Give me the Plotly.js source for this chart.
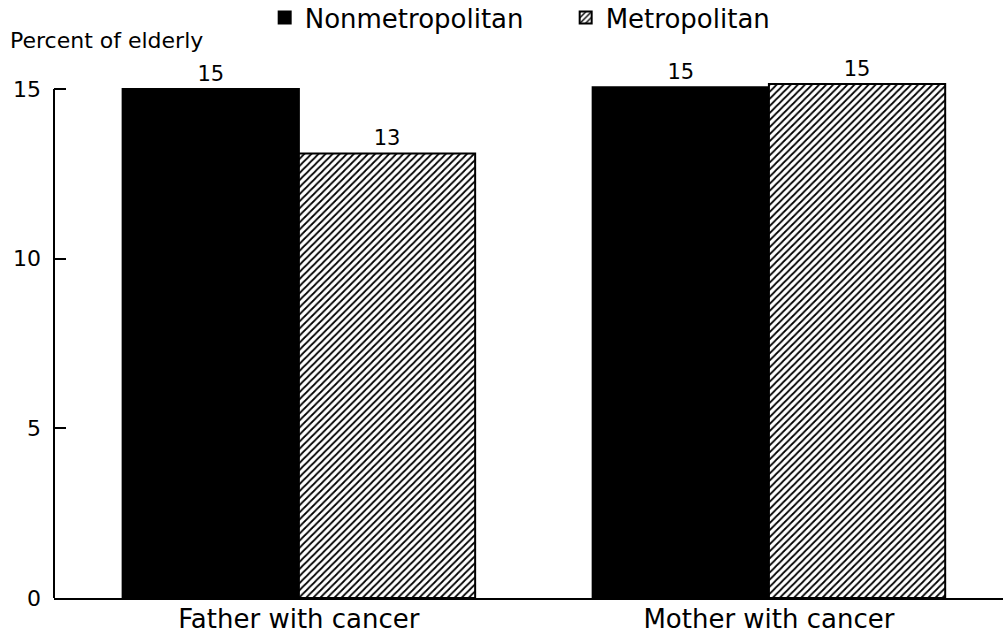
<!DOCTYPE html>
<html><head><meta charset="utf-8">
<script src="https://cdn.plot.ly/plotly-3.0.1.min.js"></script>
<style>html,body{margin:0;padding:0;background:#fff}#chart{width:1003px;height:638px}</style>
</head><body><div id="chart"></div>
<script>
const categories = ["Father with cancer", "Mother with cancer"];
const nonmetro = [15.0, 15.05];
const metro = [13.1, 15.15];
const seriesNames = ["Nonmetropolitan", "Metropolitan"];
const yTicks = [0, 5, 10, 15];

const FONT = "DejaVu Sans, Liberation Sans, Arial, sans-serif";

const traces = [
  {type: "bar", name: seriesNames[0], x: categories, y: nonmetro,
   marker: {color: "#000", line: {color: "#000", width: 2}},
   texttemplate: "%{y:.0f}", textposition: "outside", cliponaxis: false,
   textfont: {size: 21, color: "#000", family: FONT}, hoverinfo: "skip"},
  {type: "bar", name: seriesNames[1], x: categories, y: metro,
   marker: {color: "#fff", line: {color: "#000", width: 2},
            pattern: {shape: "/", fgcolor: "#000", bgcolor: "#fff", size: 5, solidity: 0.35}},
   texttemplate: "%{y:.0f}", textposition: "outside", cliponaxis: false,
   textfont: {size: 21, color: "#000", family: FONT}, hoverinfo: "skip"}
];

const layout = {
  width: 1003, height: 638,
  margin: {l: 54, r: 0, t: 72, b: 40, autoexpand: false},
  paper_bgcolor: "#fff", plot_bgcolor: "#fff",
  font: {family: FONT, color: "#000"},
  barmode: "group", bargap: 0.25, bargroupgap: 0,
  showlegend: true,
  legend: {orientation: "h", x: 0.222, y: 1.148, xanchor: "left", yanchor: "top",
           font: {size: 26, family: FONT, color: "#000"}, traceorder: "normal",
           itemwidth: 30, entrywidth: 256, entrywidthmode: "pixels", bgcolor: "rgba(0,0,0,0)"},
  xaxis: {type: "category", range: [-0.521, 1.498], showline: true, linecolor: "#000", linewidth: 2,
          ticks: "", showgrid: false, zeroline: false, automargin: false,
          tickfont: {size: 26, family: FONT, color: "#000"}, ticklabelstandoff: -3},
  yaxis: {range: [0, 15.5], showline: false, showgrid: false, zeroline: false, automargin: false,
          tickvals: yTicks, ticktext: yTicks.map(String),
          ticks: "inside", ticklen: 12, tickwidth: 2, tickcolor: "#000",
          tickfont: {size: 22, family: FONT, color: "#000"}, ticklabelstandoff: 12},
  shapes: [
    {type: "line", xref: "paper", yref: "y", x0: 0, x1: 0, y0: 0, y1: 15,
     line: {color: "#000", width: 2}}
  ],
  annotations: [
    {text: "Percent of elderly", xref: "paper", yref: "paper", x: 0, y: 1, xshift: -46, yshift: 32,
     xanchor: "left", yanchor: "middle", showarrow: false,
     font: {size: 22, family: FONT, color: "#000"}}
  ]
};

Plotly.newPlot("chart", traces, layout, {displayModeBar: false, staticPlot: true});
</script></body></html>
